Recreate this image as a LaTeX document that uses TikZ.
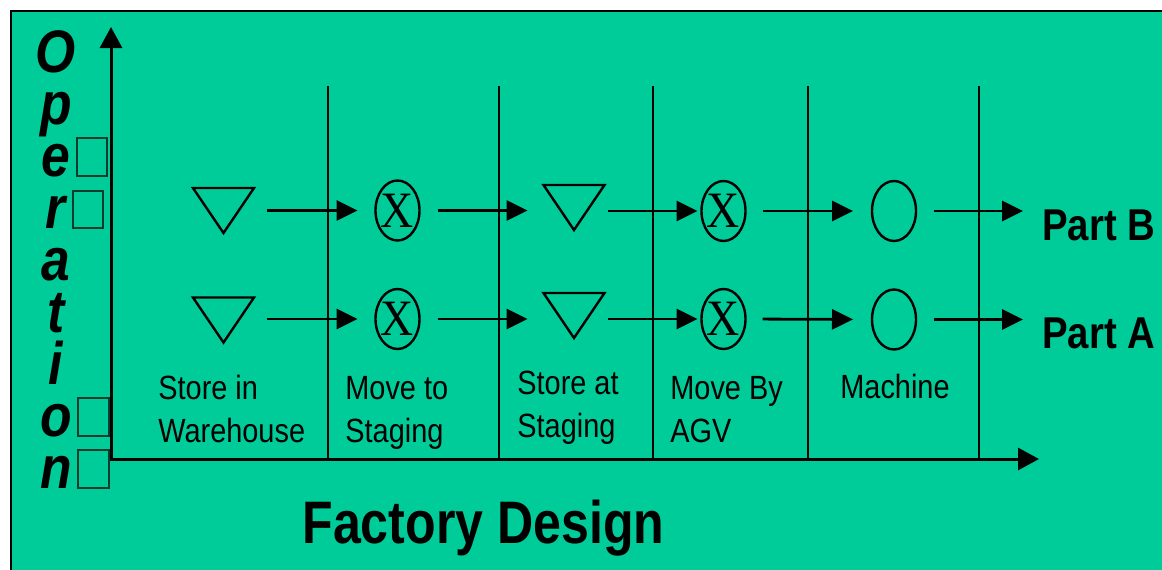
\documentclass[tikz,border=0pt]{standalone}
\usepackage{fontspec}
\setmainfont{Liberation Sans}[FakeStretch=0.86]
\newfontfamily\titlefont{Liberation Sans}[FakeStretch=0.835]
\newfontfamily\serifx{Liberation Serif}[FakeStretch=0.9]
\usetikzlibrary{arrows.meta,shapes.geometric}
\definecolor{bg}{RGB}{0,204,153}
\definecolor{boxline}{RGB}{10,60,45}
\begin{document}
\begin{tikzpicture}[x=0.5pt,y=-0.5pt,
  arr/.style={line width=1.4pt,-{Triangle[length=10.5pt,width=10pt]}},
  axis/.style={line width=1.5pt,{Triangle[length=10.5pt,width=11pt]}-{Triangle[length=10.5pt,width=11pt]}},
  divider/.style={line width=1.1pt},
  tri/.style={rectangle,inner sep=0pt,outer sep=0pt,minimum width=30.5pt,minimum height=22.5pt},
  triline/.style={line width=1.2pt,line join=miter},
  ell/.style={ellipse,draw,line width=1.2pt,inner sep=0pt,outer sep=0pt,minimum width=22pt,minimum height=30pt},
  xmark/.style={ell,font=\serifx\fontsize{25.5}{25.5}\selectfont},
  lab/.style={anchor=base west,align=left,inner sep=0pt,font=\fontsize{16.8}{21.5}\selectfont},
  part/.style={anchor=base west,inner sep=0pt,font=\bfseries\fontsize{22.3}{22.3}\selectfont},
  gbox/.style={draw=boxline,line width=0.6pt}
]
\useasboundingbox (0,0) rectangle (1162,569);
\fill[white] (0,0) rectangle (1162,569);
\filldraw[fill=bg,draw=black,line width=1.25pt] (11,11) rectangle (1190,600);

% vertical title (base anchor = baseline of last line)
\node[anchor=base,align=center,inner sep=0pt,font=\bfseries\itshape\fontsize{30}{26}\selectfont] (op) at (56,488) {O\\p\\e\\r\\a\\t\\i\\o\\n};
\draw[gbox] (77,138) rectangle (107,176);
\draw[gbox] (73,191) rectangle (103,228);
\draw[gbox] (78,398) rectangle (109,436);
\draw[gbox] (78,450) rectangle (109,488);

% axes
\coordinate (orig) at (111,459);
\coordinate (ytip) at (111,27);
\coordinate (xtip) at (1039,459);
\draw[axis] (ytip) -- (orig) -- (xtip);

% dividers
\foreach \x in {328,499,653,808,979} \draw[divider] (\x,86) -- (\x,459);

% row B
\node[tri] (t1B) at (223.5,210.5) {};
\node[xmark] (x2B) at (397.5,210.5) {\makebox[0pt]{X}};
\node[tri] (t3B) at (574,207.5) {};
\node[xmark] (x4B) at (723.5,211) {\makebox[0pt]{X}};
\node[ell] (c5B) at (894,211) {};
\node[part] (pB) at (1042,240) {Part B};
% row A
\node[tri] (t1A) at (223.5,320) {};
\node[xmark] (x2A) at (397.5,319) {\makebox[0pt]{X}};
\node[tri] (t3A) at (574,315.5) {};
\node[xmark] (x4A) at (723.5,319) {\makebox[0pt]{X}};
\node[ell] (c5A) at (894,319.5) {};
\node[part] (pA) at (1042,348) {Part A};

\foreach \n in {t1B,t3B,t1A,t3A}
  \draw[triline] (\n.north west) -- (\n.north east) -- (\n.south) -- cycle;

% arrows row B
\draw[arr,shorten <=6.5pt,shorten >=9pt] (t1B.east |- x2B) -- (x2B.west);
\draw[arr,shorten <=9pt,shorten >=8pt] (x2B.east) -- (x2B -| t3B.west);
\draw[arr,shorten <=1.5pt,shorten >=2pt] (t3B.east |- x4B) -- (x4B.west);
\draw[arr,shorten <=8.5pt,shorten >=9.5pt] (x4B.east) -- (c5B.west);
\draw[arr,shorten <=9pt,shorten >=9.5pt] (c5B.east) -- (c5B -| pB.west);
% arrows row A
\draw[arr,shorten <=6.5pt,shorten >=9pt] (t1A.east |- x2A) -- (x2A.west);
\draw[arr,shorten <=9pt,shorten >=8pt] (x2A.east) -- (x2A -| t3A.west);
\draw[arr,shorten <=1.5pt,shorten >=2pt] (t3A.east |- x4A) -- (x4A.west);
\draw[arr,shorten <=8.5pt,shorten >=9.5pt] (x4A.east) -- (c5A.west);
\draw[arr,shorten <=9pt,shorten >=9.5pt] (c5A.east) -- (c5A -| pA.west);

% labels (base anchor = baseline of last line)
\node[lab] (l1) at (158,442) {Store in\\Warehouse};
\node[lab] (l2) at (345,442) {Move to\\Staging};
\node[lab] (l3) at (517,437) {Store at\\Staging};
\node[lab] (l4) at (670,442) {Move By\\AGV};
\node[lab] (l5) at (840,398) {Machine};
\node[anchor=base west,inner sep=0pt,font=\titlefont\bfseries\fontsize{30}{30}\selectfont] (fd) at (302,543) {Factory Design};
\end{tikzpicture}
\end{document}
